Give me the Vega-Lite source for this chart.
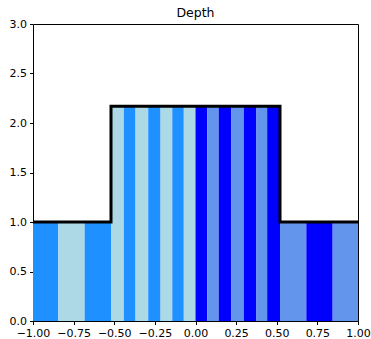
{
  "$schema": "https://vega.github.io/schema/vega-lite/v6.json",
  "autosize": "none",
  "padding": {"left": 33, "top": 24, "right": 13, "bottom": 18},
  "width": 325,
  "height": 297,
  "title": {"text": "Depth", "font": "DejaVu Sans", "fontSize": 12.5, "fontWeight": "normal", "color": "black", "offset": -1},
  "config": {
    "view": {"stroke": "black", "strokeWidth": 1},
    "axis": {"grid": false, "domain": false, "tickColor": "black", "tickSize": 3.5, "labelColor": "black", "labelFont": "DejaVu Sans", "labelFontSize": 11, "labelPadding": 3, "labelOverlap": false, "labelBound": false, "labelFlush": false, "title": null}
  },
  "datasets": {
    "bars": [
      {"x0": -1.0, "x1": -0.844, "h": 1.0, "c": "#1e90ff"},
      {"x0": -0.844, "x1": -0.682, "h": 1.0, "c": "#add8e6"},
      {"x0": -0.682, "x1": -0.52, "h": 1.0, "c": "#1e90ff"},
      {"x0": -0.52, "x1": -0.441, "h": 2.17, "c": "#add8e6"},
      {"x0": -0.441, "x1": -0.369, "h": 2.17, "c": "#1e90ff"},
      {"x0": -0.369, "x1": -0.291, "h": 2.17, "c": "#add8e6"},
      {"x0": -0.291, "x1": -0.215, "h": 2.17, "c": "#1e90ff"},
      {"x0": -0.215, "x1": -0.143, "h": 2.17, "c": "#add8e6"},
      {"x0": -0.143, "x1": -0.072, "h": 2.17, "c": "#1e90ff"},
      {"x0": -0.072, "x1": 0.0, "h": 2.17, "c": "#add8e6"},
      {"x0": 0.0, "x1": 0.072, "h": 2.17, "c": "#0000ff"},
      {"x0": 0.072, "x1": 0.143, "h": 2.17, "c": "#6495ed"},
      {"x0": 0.143, "x1": 0.221, "h": 2.17, "c": "#0000ff"},
      {"x0": 0.221, "x1": 0.297, "h": 2.17, "c": "#6495ed"},
      {"x0": 0.297, "x1": 0.375, "h": 2.17, "c": "#0000ff"},
      {"x0": 0.375, "x1": 0.441, "h": 2.17, "c": "#6495ed"},
      {"x0": 0.441, "x1": 0.52, "h": 2.17, "c": "#0000ff"},
      {"x0": 0.52, "x1": 0.682, "h": 1.0, "c": "#6495ed"},
      {"x0": 0.682, "x1": 0.844, "h": 1.0, "c": "#0000ff"},
      {"x0": 0.844, "x1": 1.0, "h": 1.0, "c": "#6495ed"}
    ],
    "step": [
      {"i": 0, "x": -1.0, "y": 1.0},
      {"i": 1, "x": -0.52, "y": 1.0},
      {"i": 2, "x": -0.52, "y": 2.17},
      {"i": 3, "x": 0.52, "y": 2.17},
      {"i": 4, "x": 0.52, "y": 1.0},
      {"i": 5, "x": 1.0, "y": 1.0}
    ]
  },
  "layer": [
    {
      "data": {"name": "bars"},
      "mark": {"type": "bar"},
      "encoding": {
        "x": {"field": "x0", "type": "quantitative", "scale": {"domain": [-1, 1], "nice": false}, "axis": {"values": [-1, -0.75, -0.5, -0.25, 0, 0.25, 0.5, 0.75, 1], "format": ".2f"}},
        "x2": {"field": "x1"},
        "y": {"field": "h", "type": "quantitative", "scale": {"domain": [0, 3], "nice": false}, "axis": {"values": [0, 0.5, 1, 1.5, 2, 2.5, 3], "format": ".1f"}},
        "y2": {"datum": 0},
        "color": {"field": "c", "type": "nominal", "scale": null}
      }
    },
    {
      "data": {"name": "step"},
      "mark": {"type": "line", "color": "black", "strokeWidth": 3, "strokeJoin": "miter"},
      "encoding": {
        "x": {"field": "x", "type": "quantitative"},
        "y": {"field": "y", "type": "quantitative"},
        "order": {"field": "i", "type": "quantitative"}
      }
    }
  ]
}
